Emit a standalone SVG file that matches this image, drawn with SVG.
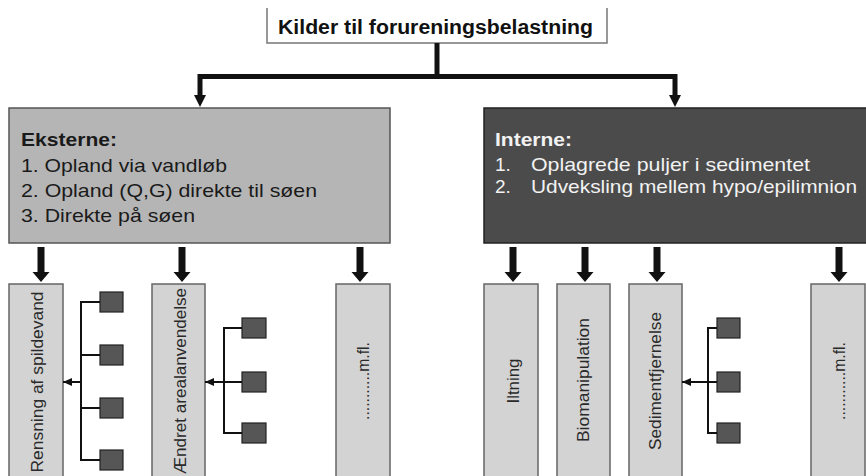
<svg xmlns="http://www.w3.org/2000/svg" xmlns:xlink="http://www.w3.org/1999/xlink" width="866" height="476" viewBox="0 0 866 476">
<style>
  text { font-family: "Liberation Sans", Arial, sans-serif; }
  .title { font-size: 20px; font-weight: bold; fill: #111; }
  .ext { font-size: 19px; fill: #1a1a1a; }
  .int { font-size: 19px; fill: #f2f2f2; }
  .b { font-weight: bold; }
  .col { fill: #d3d3d3; stroke: #666; stroke-width: 1.5; }
  .coltxt { font-size: 17px; fill: #2a2a2a; text-anchor: middle; }
  .sq { fill: #565656; stroke: #222; stroke-width: 1.2; }
  .tree { fill: none; stroke: #111; stroke-width: 2; }
  .thick { fill: #111; }
</style>
<defs>
  <path id="bigArrow" d="M-3.5,-35 H3.5 V-10 H8.5 L0,0 L-8.5,-10 H-3.5 Z"/>
  <marker id="smallHead" markerUnits="userSpaceOnUse" markerWidth="10" markerHeight="8" refX="9" refY="4" orient="auto">
    <path d="M0,0 L9,4 L0,8 Z" fill="#111"/>
  </marker>
</defs>

<g id="title">
  <rect x="267" y="8" width="340" height="35" fill="#fff"/>
  <path d="M267,8 V43 H607 V8" fill="none" stroke="#777" stroke-width="1.5"/>
  <text class="title" x="278" y="34" textLength="315" lengthAdjust="spacingAndGlyphs">Kilder til forureningsbelastning</text>
</g>

<g id="eksterne">
  <rect x="9" y="108" width="381" height="135" fill="#b5b5b5" stroke="#555" stroke-width="1.5"/>
  <text class="ext b" x="21" y="145.5" textLength="96" lengthAdjust="spacingAndGlyphs">Eksterne:</text>
  <text class="ext" x="21" y="171.5" textLength="206" lengthAdjust="spacingAndGlyphs">1. Opland via vandløb</text>
  <text class="ext" x="21" y="196.5" textLength="296" lengthAdjust="spacingAndGlyphs">2. Opland (Q,G) direkte til søen</text>
  <text class="ext" x="21" y="221.5" textLength="174" lengthAdjust="spacingAndGlyphs">3. Direkte på søen</text>
</g>

<g id="interne">
  <rect x="484" y="108" width="390" height="135" fill="#4b4b4b" stroke="#222" stroke-width="1.5"/>
  <text class="int b" x="495" y="146" textLength="77" lengthAdjust="spacingAndGlyphs">Interne:</text>
  <text class="int" x="495" y="171">1.</text>
  <text class="int" x="531" y="171" textLength="279" lengthAdjust="spacingAndGlyphs">Oplagrede puljer i sedimentet</text>
  <text class="int" x="495" y="193">2.</text>
  <text class="int" x="531" y="193" textLength="326" lengthAdjust="spacingAndGlyphs">Udveksling mellem hypo/epilimnion</text>
</g>

<g id="col-rensning">
  <rect class="col" x="9" y="284" width="54" height="210"/>
  <text class="coltxt" x="43" y="382" transform="rotate(-90 43 382)" textLength="181" lengthAdjust="spacingAndGlyphs">Rensning af spildevand</text>
</g>
<g id="col-arealanvendelse">
  <rect class="col" x="152" y="284" width="53" height="210"/>
  <text class="coltxt" x="186" y="381" transform="rotate(-90 186 381)" textLength="186" lengthAdjust="spacingAndGlyphs">Ændret arealanvendelse</text>
</g>
<g id="col-mfl-1">
  <rect class="col" x="336" y="284" width="54" height="210"/>
  <text class="coltxt" x="369" y="381" transform="rotate(-90 369 381)" textLength="78" lengthAdjust="spacingAndGlyphs">...........m.fl.</text>
</g>
<g id="col-iltning">
  <rect class="col" x="484" y="284" width="54" height="210"/>
  <text class="coltxt" x="519" y="381" transform="rotate(-90 519 381)" textLength="45" lengthAdjust="spacingAndGlyphs">Iltning</text>
</g>
<g id="col-biomanipulation">
  <rect class="col" x="557" y="284" width="53" height="210"/>
  <text class="coltxt" x="589" y="380" transform="rotate(-90 589 380)" textLength="124" lengthAdjust="spacingAndGlyphs">Biomanipulation</text>
</g>
<g id="col-sedimentfjernelse">
  <rect class="col" x="629" y="284" width="53" height="210"/>
  <text class="coltxt" x="661" y="381" transform="rotate(-90 661 381)" textLength="138" lengthAdjust="spacingAndGlyphs">Sedimentfjernelse</text>
</g>
<g id="col-mfl-2">
  <rect class="col" x="811" y="284" width="54" height="210"/>
  <text class="coltxt" x="845" y="381" transform="rotate(-90 845 381)" textLength="78" lengthAdjust="spacingAndGlyphs">...........m.fl.</text>
</g>

<g id="sub-rensning">
  <rect class="sq" x="100" y="292" width="23" height="20"/>
  <rect class="sq" x="100" y="345" width="23" height="20"/>
  <rect class="sq" x="100" y="398" width="23" height="20"/>
  <rect class="sq" x="100" y="450" width="23" height="20"/>
</g>
<g id="sub-arealanvendelse">
  <rect class="sq" x="242" y="318" width="24" height="20"/>
  <rect class="sq" x="242" y="372" width="24" height="20"/>
  <rect class="sq" x="242" y="423" width="24" height="20"/>
</g>
<g id="sub-sedimentfjernelse">
  <rect class="sq" x="717" y="318" width="23" height="20"/>
  <rect class="sq" x="717" y="372" width="23" height="20"/>
  <rect class="sq" x="717" y="423" width="23" height="20"/>
</g>

<g id="connectors">
  <path d="M437,43 V76.5" fill="none" stroke="#111" stroke-width="5"/>
  <path d="M200,97 V76.5 H675 V97" fill="none" stroke="#111" stroke-width="5" stroke-linejoin="miter"/>
  <path class="thick" d="M194,95 H206 L200,107 Z"/>
  <path class="thick" d="M669,95 H681 L675,107 Z"/>
  <use href="#bigArrow" xlink:href="#bigArrow" class="thick" x="41" y="282"/>
  <use href="#bigArrow" xlink:href="#bigArrow" class="thick" x="182" y="282"/>
  <use href="#bigArrow" xlink:href="#bigArrow" class="thick" x="360" y="282"/>
  <use href="#bigArrow" xlink:href="#bigArrow" class="thick" x="513" y="282"/>
  <use href="#bigArrow" xlink:href="#bigArrow" class="thick" x="585" y="282"/>
  <use href="#bigArrow" xlink:href="#bigArrow" class="thick" x="657" y="282"/>
  <use href="#bigArrow" xlink:href="#bigArrow" class="thick" x="839" y="282"/>
  <path class="tree" d="M100,302 H81 V460 H100 M81,355 H100 M81,408 H100"/>
  <path class="tree" d="M81,382 H63" marker-end="url(#smallHead)"/>
  <path class="tree" d="M242,328 H224 V433 H242"/>
  <path class="tree" d="M242,382 H205" marker-end="url(#smallHead)"/>
  <path class="tree" d="M717,328 H708 V433 H717"/>
  <path class="tree" d="M717,382 H682" marker-end="url(#smallHead)"/>
</g>
</svg>
